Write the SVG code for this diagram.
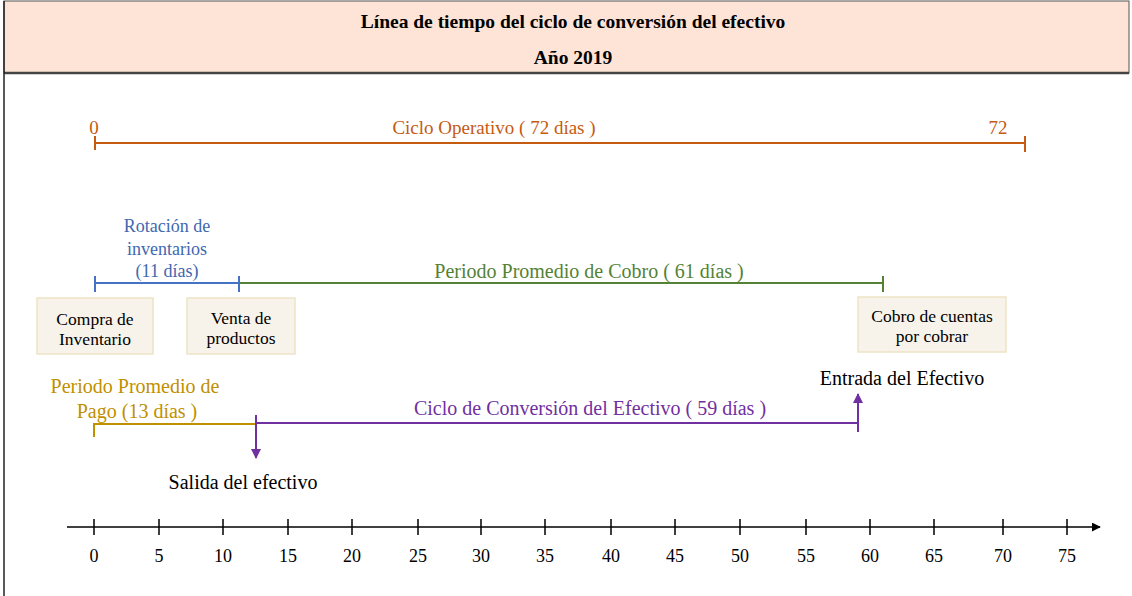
<svg xmlns="http://www.w3.org/2000/svg" width="1132" height="596" viewBox="0 0 1132 596">
<style>
text{font-family:"Liberation Serif","Times New Roman",serif;font-size:18px;text-anchor:middle}
.t{font-weight:bold;font-size:19.5px;fill:#000}
.or{fill:#c55a11;font-size:19px}.bl{fill:#4068b0;font-size:18px}.gr{fill:#548235;font-size:20px}.go{fill:#bf9000;font-size:20px}.pu{fill:#7030a0;font-size:20px}.bk{fill:#000}
.bx{font-size:17.5px;fill:#000}.big{font-size:20px;fill:#000}
.box{fill:#f7f3eb;stroke:#efe3c6;stroke-width:1.5}
.lo{stroke:#c55a11;stroke-width:2;fill:none}
.lb{stroke:#4472c4;stroke-width:2;fill:none}
.lg{stroke:#548235;stroke-width:2;fill:none}
.ly{stroke:#bf9000;stroke-width:2;fill:none}
.lp{stroke:#7030a0;stroke-width:2;fill:none}
.ax{stroke:#000;stroke-width:1.5;fill:none}
</style>
<defs>
<marker id="ap" viewBox="0 0 10 10" refX="9" refY="5" markerWidth="5" markerHeight="5" orient="auto"><path d="M0,0L10,5L0,10z" fill="#7030a0"/></marker>
<marker id="ak" viewBox="0 0 10 10" refX="9" refY="5" markerWidth="6" markerHeight="6" orient="auto"><path d="M0,0L10,5L0,10z" fill="#000"/></marker>
</defs>
<rect width="1132" height="596" fill="#fff"/>
<g id="header">
<rect x="4" y="1" width="1125" height="72" fill="#fde4d6" stroke="#555" stroke-width="1"/>
<line x1="4" y1="73" x2="1129" y2="73" stroke="#444" stroke-width="2.5"/>
<line x1="4" y1="1" x2="4" y2="596" stroke="#222" stroke-width="1.5"/>
<text class="t" x="573" y="28">Línea de tiempo del ciclo de conversión del efectivo</text>
<text class="t" x="573" y="64">Año 2019</text>
</g>
<g id="connectors">
<path class="lo" d="M95,143H1025M95,136V150M1025,136V152"/>
<path class="lb" d="M95,283H239M95,276V292M239,276V292"/>
<path class="lg" d="M239,283H883M883,276V292"/>
<path class="ly" d="M94,424H256M94,423V437"/>
<path class="lp" d="M256,423H858"/>
<path class="lp" d="M256,415V458" marker-end="url(#ap)"/>
<path class="lp" d="M858,432V394" marker-end="url(#ap)"/>
<path class="ax" d="M67,527H1100" marker-end="url(#ak)"/>
<path class="ax" d="M94,519V535M159,519V535M223,519V535M288,519V535M352,519V535M418,519V535M481,519V535M545,519V535M611,519V535M675,519V535M740,519V535M806,519V535M870,519V535M934,519V535M1003,519V535M1067,519V535"/>
</g>
<g id="ciclo-operativo">
<text class="or" x="94" y="134">0</text>
<text class="or" x="998" y="134">72</text>
<text class="or" x="494" y="134">Ciclo Operativo ( 72 días )</text>
</g>
<g id="rotacion">
<text class="bl" x="167" y="232">Rotación de</text>
<text class="bl" x="167" y="255">inventarios</text>
<text class="bl" x="167" y="277">(11 días)</text>
</g>
<g id="cobro">
<text class="gr" x="589" y="278">Periodo Promedio de Cobro ( 61 días )</text>
</g>
<g id="compra">
<rect class="box" x="37" y="298" width="116" height="56"/>
<text class="bx" x="95" y="325">Compra de</text>
<text class="bx" x="95" y="345">Inventario</text>
</g>
<g id="venta">
<rect class="box" x="187" y="298" width="108" height="56"/>
<text class="bx" x="241" y="324">Venta de</text>
<text class="bx" x="241" y="344">productos</text>
</g>
<g id="cobro-cuentas">
<rect class="box" x="858" y="297" width="148" height="55"/>
<text class="bx" x="932" y="322">Cobro de cuentas</text>
<text class="bx" x="932" y="342">por cobrar</text>
</g>
<g id="pago">
<text class="go" x="135" y="393">Periodo Promedio de</text>
<text class="go" x="137" y="418">Pago (13 días )</text>
</g>
<g id="conversion">
<text class="pu" x="590" y="415">Ciclo de Conversión del Efectivo ( 59 días )</text>
</g>
<g id="salida">
<text class="big" x="243" y="489">Salida del efectivo</text>
</g>
<g id="entrada">
<text class="big" x="902" y="385">Entrada del Efectivo</text>
</g>
<g id="axis-labels" class="bk">
<text x="94" y="562">0</text><text x="159" y="562">5</text><text x="223" y="562">10</text><text x="288" y="562">15</text>
<text x="352" y="562">20</text><text x="418" y="562">25</text><text x="481" y="562">30</text><text x="545" y="562">35</text>
<text x="611" y="562">40</text><text x="675" y="562">45</text><text x="740" y="562">50</text><text x="806" y="562">55</text>
<text x="870" y="562">60</text><text x="934" y="562">65</text><text x="1003" y="562">70</text><text x="1067" y="562">75</text>
</g>
</svg>
